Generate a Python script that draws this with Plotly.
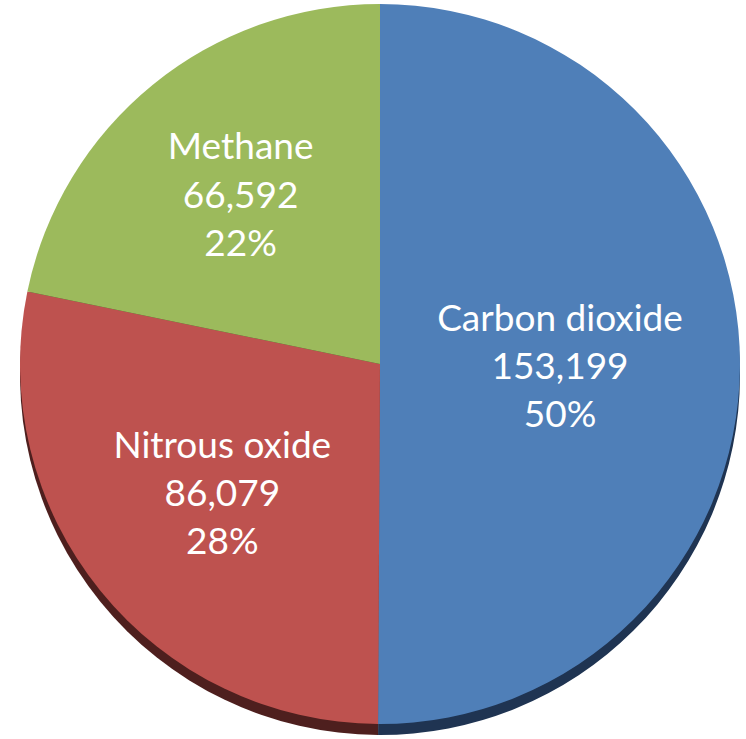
import plotly.graph_objects as go

# Greenhouse gas emissions by gas
gases = ["Carbon dioxide", "Nitrous oxide", "Methane"]
emissions = [153199, 86079, 66592]
colors = ["#4F7FB8", "#BE524F", "#9CBA5C"]
shadow_colors = ["#1F3452", "#4E1F1E", "#3E4A24"]

W, H = 746, 739
cx, cy, r = 380, 364, 360   # pie centre and radius in pixels
shadow_dy = 11              # drop-shadow offset below the pie


def dom(cx, cy, r):
    return dict(x=[(cx - r) / W, (cx + r) / W],
                y=[1 - (cy + r) / H, 1 - (cy - r) / H])


fig = go.Figure()

# Dark drop shadow peeking out under the lower rim
fig.add_trace(go.Pie(
    labels=gases, values=emissions, sort=False, direction="clockwise",
    rotation=0, domain=dom(cx, cy + shadow_dy, r),
    marker=dict(colors=shadow_colors, line=dict(width=0)),
    textinfo="none", hoverinfo="skip", showlegend=False,
))

fig.add_trace(go.Pie(
    labels=gases, values=emissions, sort=False, direction="clockwise",
    rotation=0, domain=dom(cx, cy, r),
    marker=dict(colors=colors, line=dict(width=0)),
    texttemplate="%{label}<br>%{value:,}<br>%{percent:.0%}",
    textposition="inside", insidetextorientation="horizontal",
    textfont=dict(family="Lato", size=37, color="white"),
    hoverinfo="skip", showlegend=False,
))

fig.update_layout(
    width=W, height=H,
    margin=dict(l=0, r=0, t=0, b=0),
    paper_bgcolor="white",
    plot_bgcolor="white",
)

fig.write_html("out.html")
